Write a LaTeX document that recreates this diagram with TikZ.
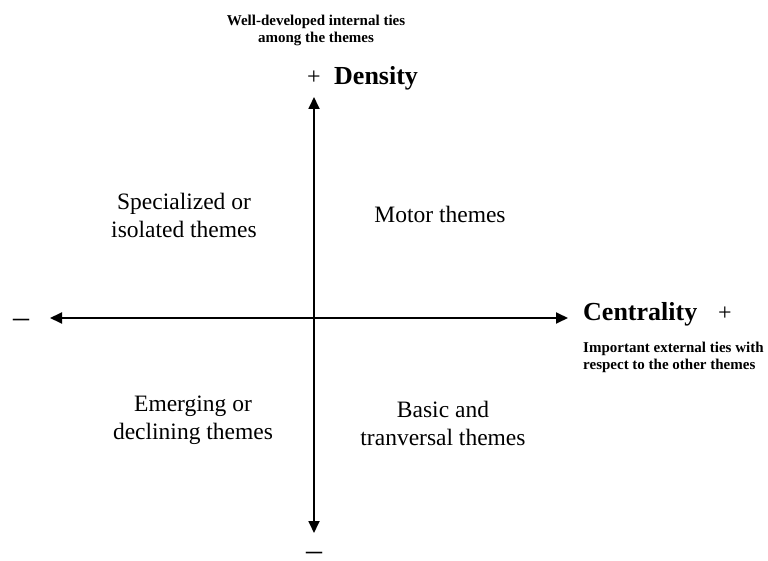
\documentclass[tikz,border=0pt]{standalone}
\usepackage{fontspec}
\setmainfont{Liberation Serif}
\usetikzlibrary{arrows.meta}
\begin{document}
\begin{tikzpicture}[x=1pt,y=-1pt,
  axis/.style={line width=1.8pt,{Triangle[length=12pt,width=11pt]}-{Triangle[length=12pt,width=11pt]}},
  quad/.style={align=center,inner sep=0pt,font=\fontsize{23.5}{28}\selectfont},
  note/.style={inner sep=0pt,font=\fontsize{15}{17}\selectfont\bfseries},
  axlabel/.style={inner sep=0pt,font=\fontsize{26}{30}\selectfont\bfseries},
  sign/.style={inner sep=0pt,font=\fontsize{24}{28}\selectfont}]
\useasboundingbox (0,0) rectangle (768,561);
% axes
\coordinate (top) at (314,97);
\coordinate (bottom) at (314,533);
\coordinate (left) at (50,318);
\coordinate (right) at (568,318);
\draw[axis] (bottom) -- (top);
\draw[axis] (left) -- (right);
% labels
\node[note,align=center] (topnote) at (316,30) {Well-developed internal ties\\among the themes};
\node[sign,anchor=base] (plusD) at (314,85) {+};
\node[axlabel,anchor=base west] (density) at (334,85) {Density};
\node[axlabel,anchor=base west] (centrality) at (583,320) {Centrality};
\node[sign,anchor=base] (plusC) at (725,320) {+};
\node[note,align=left,anchor=north west] (rightnote) at (583,342) {Important external ties with\\respect to the other themes};
\node[sign,font=\fontsize{32}{32}\selectfont] (minusL) at (21,323) {–};
\node[sign,font=\fontsize{32}{32}\selectfont] (minusB) at (314,556) {–};
% quadrants
\node[quad] (q1) at (184,215) {Specialized or\\isolated themes};
\node[quad] (q2) at (440,214) {Motor themes};
\node[quad] (q3) at (193,420) {Emerging or\\declining themes};
\node[quad] (q4) at (443,423) {Basic and\\tranversal themes};
\end{tikzpicture}
\end{document}
